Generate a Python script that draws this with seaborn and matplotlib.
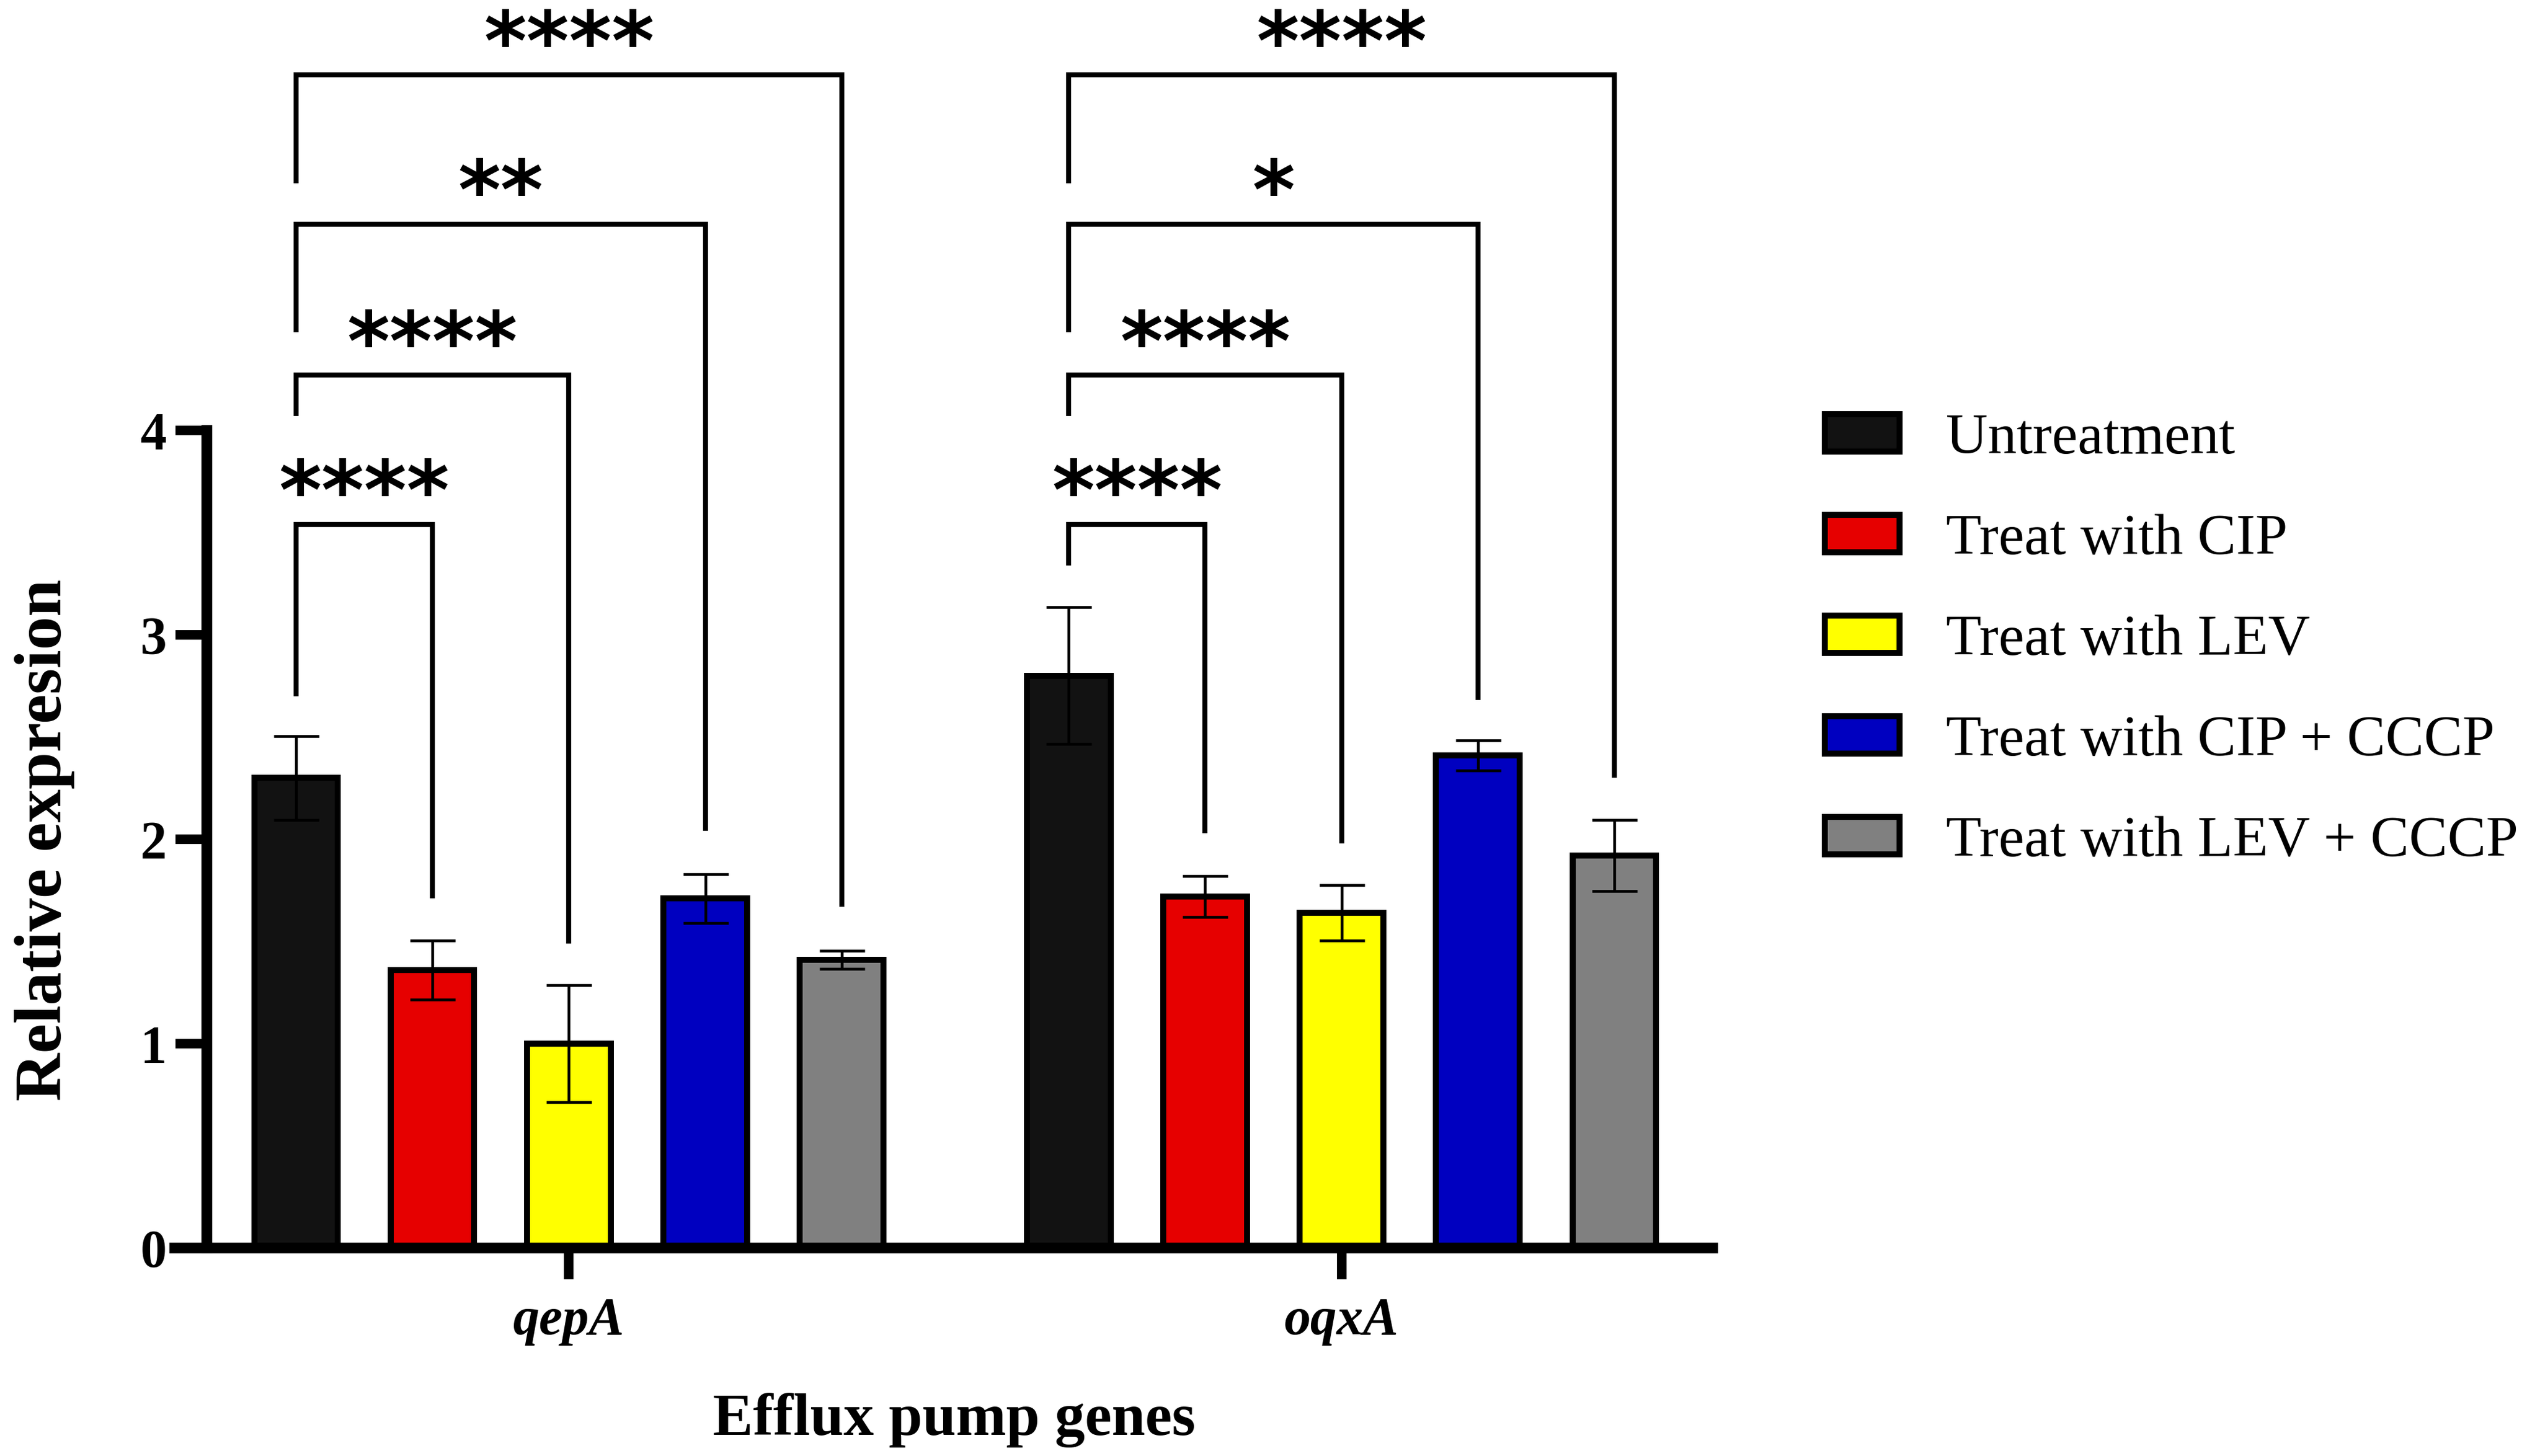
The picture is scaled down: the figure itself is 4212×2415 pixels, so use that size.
import matplotlib
matplotlib.use("Agg")
import matplotlib.pyplot as plt
import seaborn as sns
import pandas as pd

# ---------------- data ----------------
genes = ["qepA", "oqxA"]
treatments = ["Untreatment", "Treat with CIP", "Treat with LEV",
              "Treat with CIP + CCCP", "Treat with LEV + CCCP"]
qepA_mean = [2.30, 1.36, 1.00, 1.71, 1.41]
qepA_err = [0.205, 0.145, 0.285, 0.12, 0.045]
oqxA_mean = [2.80, 1.72, 1.64, 2.41, 1.92]
oqxA_err = [0.335, 0.10, 0.135, 0.075, 0.175]
colors = ["#121212", "#E60000", "#FFFF00", "#0000C0", "#808080"]

# significance brackets (Untreatment vs each other treatment)
bracket_heights = [3.54, 4.27, 5.01, 5.74]
qepA_stars = ["****", "****", "**", "****"]
oqxA_stars = ["****", "****", "*", "****"]
qepA_left_end = [2.70, 4.07, 4.48, 5.21]
oqxA_left_end = [3.34, 4.07, 4.48, 5.21]
qepA_right_end = [1.71, 1.49, 2.04, 1.67]
oqxA_right_end = [2.03, 1.98, 2.68, 2.30]

means = {"qepA": qepA_mean, "oqxA": oqxA_mean}
errs = {"qepA": qepA_err, "oqxA": oqxA_err}
stars = {"qepA": qepA_stars, "oqxA": oqxA_stars}
left_end = {"qepA": qepA_left_end, "oqxA": oqxA_left_end}
right_end = {"qepA": qepA_right_end, "oqxA": oqxA_right_end}

rows = []
for g in genes:
    for t, v in zip(treatments, means[g]):
        rows.append({"Gene": g, "Treatment": t, "Value": v})
df = pd.DataFrame(rows)

# ---------------- style ----------------
sns.set_style("ticks")
plt.rcParams["font.family"] = ["Liberation Serif", "DejaVu Sans"]
for key in ["axes.edgecolor", "xtick.color", "ytick.color", "text.color",
            "axes.labelcolor", "xtick.labelcolor", "ytick.labelcolor"]:
    plt.rcParams[key] = "black"

fig = plt.figure(figsize=(14.04, 8.05), dpi=300)
ax = fig.add_axes([0.06885, 0.14286, 0.6053, 0.8563])

sns.barplot(data=df, x="Gene", y="Value", hue="Treatment", order=genes,
            hue_order=treatments, palette=colors, saturation=1,
            width=0.8825, gap=0.388, edgecolor="black", linewidth=2.4,
            errorbar=None, ax=ax)

# bar centres
xs = {}
for ti, cont in enumerate(ax.containers):
    for gi, patch in enumerate(cont):
        xs[(ti, gi)] = patch.get_x() + patch.get_width() / 2

# error bars
for ti in range(len(treatments)):
    for gi, g in enumerate(genes):
        ax.errorbar(xs[(ti, gi)], means[g][ti], yerr=errs[g][ti],
                    fmt="none", ecolor="black", elinewidth=1.1,
                    capsize=9, capthick=1.1, zorder=5)

# brackets + stars
for gi, g in enumerate(genes):
    xl = xs[(0, gi)]
    for k, h in enumerate(bracket_heights):
        xr = xs[(k + 1, gi)]
        ax.plot([xl, xl, xr, xr], [left_end[g][k], h, h, right_end[g][k]],
                color="black", lw=2.0, solid_joinstyle="miter",
                solid_capstyle="butt", clip_on=False, zorder=4)
        ax.text((xl + xr) / 2, h + 0.025, stars[g][k], ha="center",
                va="baseline", fontsize=32.5, fontweight="bold",
                color="black", family=["DejaVu Sans"], clip_on=False)

# axes
ax.set_ylim(0, 6.1)
ax.set_xlim(-0.51, 1.48)
for s in ["top", "right"]:
    ax.spines[s].set_visible(False)
ax.spines["left"].set_position(("data", -0.469))
ax.spines["left"].set_bounds(0, 4)
ax.spines["left"].set_linewidth(4.3)
ax.spines["bottom"].set_linewidth(4.3)
ax.spines["left"].set_color("black")
ax.spines["bottom"].set_color("black")
ax.set_yticks([0, 1, 2, 3, 4])
ax.set_yticklabels(["0", "1", "2", "3", "4"])
ax.tick_params(axis="y", length=12.5, width=3.8, labelsize=21, pad=3.4,
               color="black", labelcolor="black")
ax.tick_params(axis="x", length=12.5, width=3.8, labelsize=21, pad=7,
               color="black", labelcolor="black")
for lbl in ax.get_yticklabels():
    lbl.set_fontweight("bold")
for lbl in ax.get_xticklabels():
    lbl.set_fontweight("bold")
    lbl.set_fontstyle("italic")

ax.set_xlabel("Efflux pump genes", fontsize=24, fontweight="bold",
              color="black")
ax.xaxis.set_label_coords(0.507, -0.116)
ax.xaxis.label.set_va("top")
ax.set_ylabel("Relative expresion", fontsize=26.5, fontweight="bold",
              color="black")
ax.yaxis.set_label_coords(-0.065, 0.327)

# legend
handles, labels = ax.get_legend_handles_labels()
leg = ax.legend(handles, labels, loc="center left",
                bbox_to_anchor=(0.7184, 0.560),
                bbox_transform=fig.transFigure, frameon=False, fontsize=23,
                handlelength=1.3, handleheight=0.61, handletextpad=0.8,
                labelspacing=0.84, borderpad=0, borderaxespad=0)
for txt in leg.get_texts():
    txt.set_color("black")

fig.savefig("out.png", dpi=300)
